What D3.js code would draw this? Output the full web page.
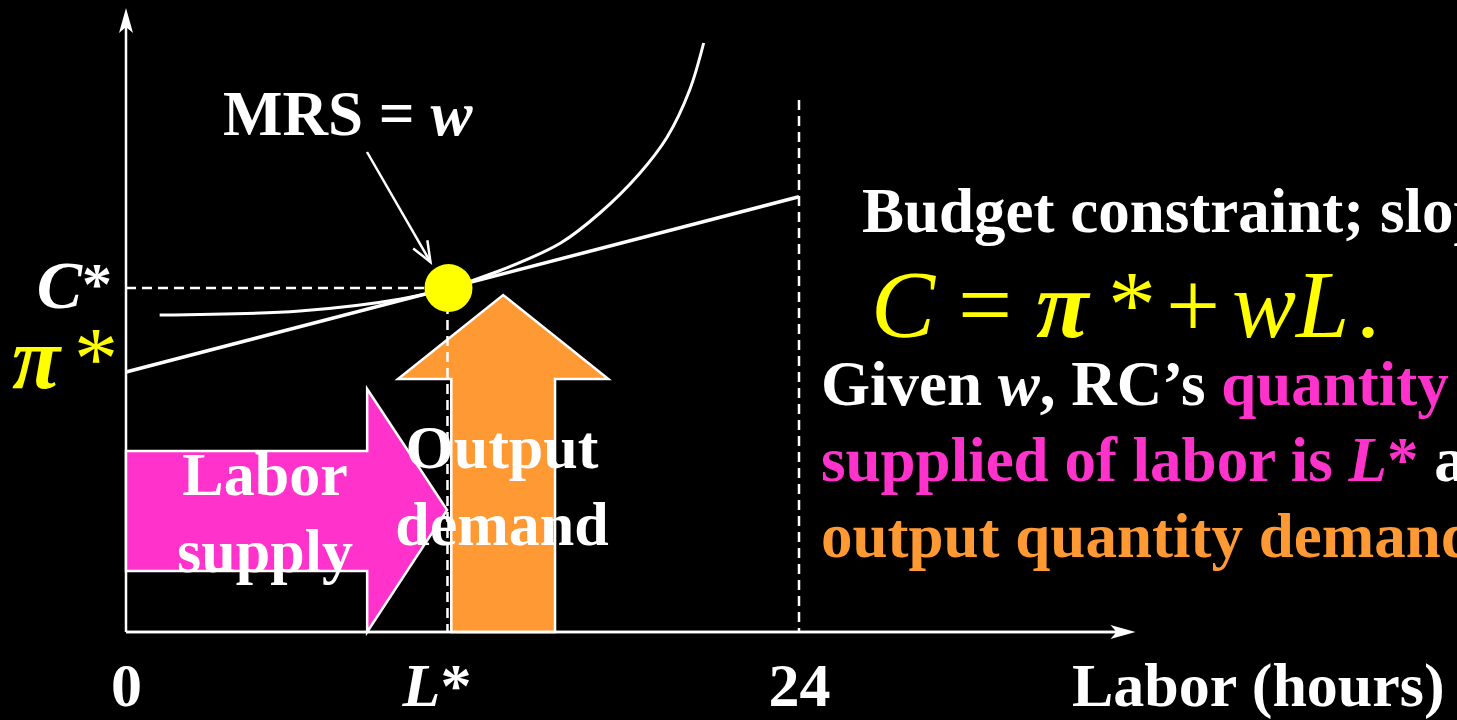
<!DOCTYPE html>
<html>
<head>
<meta charset="utf-8">
<script src="https://cdn.jsdelivr.net/npm/d3@7"></script>
<style>
  html, body { margin: 0; padding: 0; background: #000; overflow: hidden; }
  svg { display: block; }
</style>
</head>
<body>
<div id="chart"></div>
<script>
// ---- values (hours on x, consumption units on y) ----
const endowment = 24;          // hours available
const axisMaxL = 36;           // x axis arrow end
const axisMaxC = 62.4;         // y axis arrow end
const piStar = 26;             // profit income (intercept)
const wage = 0.73;             // slope of budget constraint
const Lstar = 11.5;            // chosen labor
const Cstar = piStar + wage * Lstar;
const timeLineTop = 53.2;      // top of the dashed 24-hour line

// indifference curve
const curveL = [1.2, 6.2, 9.8, 11.5, 13.3, 15.5, 16.9, 18.3, 19.3, 20.1, 20.6];
const curveC = [31.7, 32.1, 33.3, 34.4, 36.1, 38.9, 41.9, 45.8, 49.5, 54.2, 58.9];

// tick labels on the x axis
const tickValues = [0, Lstar, endowment];
const tickLabels = ["0", "L*", "24"];

// block arrows: labor supply (pointing right), output demand (pointing up)
const laborShaft = [0, 8.6];         // L from / to
const laborShaftC = [6.1, 18.1];     // C bottom / top
const laborHeadC = [0, 24.3];        // head bottom / top
const laborTip = [Lstar - 0.05, 12.2];
const outputShaft = [11.6, 15.3];    // L left / right
const outputShaftTop = 25.3;
const outputHead = [9.7, 17.2];
const outputTip = [13.45, 33.7];

const W = 1457, H = 720;
const svg = d3.select("#chart").append("svg")
    .attr("width", W)
    .attr("height", H)
    .style("background", "#000");

const x = d3.scaleLinear().domain([0, endowment]).range([126, 799]);
const y = d3.scaleLinear().domain([0, axisMaxC]).range([632, 8]);

const serif = "'Liberation Serif', 'Times New Roman', Times, serif";
const pink = "#FF33CC", orange = "#FF9933", yellow = "#FFFF00";

// axes lines with arrow heads
svg.append("line")
    .attr("x1", x(0)).attr("y1", y(0))
    .attr("x2", x(0)).attr("y2", y(axisMaxC) + 8)
    .attr("stroke", "#fff").attr("stroke-width", 2.5);
svg.append("path")
    .attr("d", `M${x(0)},${y(axisMaxC)} L${x(0) - 7},${y(axisMaxC) + 25} L${x(0)},${y(axisMaxC) + 19} L${x(0) + 7},${y(axisMaxC) + 25} Z`)
    .attr("fill", "#fff");

svg.append("line")
    .attr("x1", x(0)).attr("y1", y(0))
    .attr("x2", x(axisMaxL) - 8).attr("y2", y(0))
    .attr("stroke", "#fff").attr("stroke-width", 2.5);
svg.append("path")
    .attr("d", `M${x(axisMaxL)},${y(0)} L${x(axisMaxL) - 25},${y(0) - 7} L${x(axisMaxL) - 19},${y(0)} L${x(axisMaxL) - 25},${y(0) + 7} Z`)
    .attr("fill", "#fff");

// x tick labels via d3 axis
const xAxis = d3.axisBottom(x)
    .tickValues(tickValues)
    .tickSize(0)
    .tickPadding(0)
    .tickFormat((d, i) => tickLabels[i]);

svg.append("g")
    .attr("transform", `translate(0, ${y(0)})`)
    .call(xAxis)
    .call(g => g.select(".domain").remove())
    .call(g => g.selectAll(".tick text")
        .attr("y", 74)
        .attr("dy", 0)
        .attr("fill", "#fff")
        .attr("font-family", serif)
        .attr("font-weight", "bold")
        .attr("font-size", 62)
        .each(function(d, i) {
          if (tickLabels[i] === "L*") {
            const t = d3.select(this).text("").attr("dx", -12);
            t.append("tspan").attr("font-style", "italic").text("L");
            t.append("tspan").text("*");
          }
        }));

svg.append("text")
    .attr("x", 1072).attr("y", 706)
    .attr("fill", "#fff")
    .attr("font-family", serif).attr("font-weight", "bold").attr("font-size", 62)
    .text("Labor (hours)");

// dashed guide lines
const dash = "10,6";
svg.append("line")
    .attr("x1", x(endowment)).attr("x2", x(endowment))
    .attr("y1", y(timeLineTop)).attr("y2", y(0))
    .attr("stroke", "#fff").attr("stroke-width", 2.5).attr("stroke-dasharray", dash);
svg.append("line")
    .attr("x1", x(0)).attr("x2", x(Lstar))
    .attr("y1", y(Cstar)).attr("y2", y(Cstar))
    .attr("stroke", "#fff").attr("stroke-width", 2.5).attr("stroke-dasharray", dash);

// budget constraint
svg.append("line")
    .attr("x1", x(0)).attr("y1", y(piStar))
    .attr("x2", x(endowment)).attr("y2", y(piStar + wage * endowment))
    .attr("stroke", "#fff").attr("stroke-width", 3.5);

// indifference curve
const curveData = curveL.map((l, i) => [l, curveC[i]]);
svg.append("path")
    .datum(curveData)
    .attr("d", d3.line().x(d => x(d[0])).y(d => y(d[1])).curve(d3.curveCatmullRom.alpha(0.5)))
    .attr("fill", "none")
    .attr("stroke", "#fff")
    .attr("stroke-width", 3);

// labor supply block arrow
const laborPts = [
  [laborShaft[0], laborShaftC[1]], [laborShaft[1], laborShaftC[1]], [laborShaft[1], laborHeadC[1]],
  laborTip,
  [laborShaft[1], laborHeadC[0]], [laborShaft[1], laborShaftC[0]], [laborShaft[0], laborShaftC[0]]
];
svg.append("path")
    .attr("d", "M" + laborPts.map(p => `${x(p[0])},${y(p[1])}`).join("L") + "Z")
    .attr("fill", pink).attr("stroke", "#fff").attr("stroke-width", 2.5)
    .attr("stroke-linejoin", "miter");

// output demand block arrow
const outPts = [
  [outputShaft[0], 0], [outputShaft[0], outputShaftTop], [outputHead[0], outputShaftTop],
  outputTip,
  [outputHead[1], outputShaftTop], [outputShaft[1], outputShaftTop], [outputShaft[1], 0]
];
svg.append("path")
    .attr("d", "M" + outPts.map(p => `${x(p[0])},${y(p[1])}`).join("L") + "Z")
    .attr("fill", orange).attr("stroke", "#fff").attr("stroke-width", 2.5);

// redraw axis segment over the arrow bottoms
svg.append("line")
    .attr("x1", x(0)).attr("y1", y(0))
    .attr("x2", x(axisMaxL) - 8).attr("y2", y(0))
    .attr("stroke", "#fff").attr("stroke-width", 2.5);

// dashed line down from the optimum
svg.append("line")
    .attr("x1", x(Lstar) - 1).attr("x2", x(Lstar) - 1)
    .attr("y1", y(Cstar)).attr("y2", y(0))
    .attr("stroke", "#fff").attr("stroke-width", 2.5).attr("stroke-dasharray", dash);

// optimum point
svg.append("circle")
    .attr("cx", x(Lstar)).attr("cy", y(Cstar))
    .attr("r", 24)
    .attr("fill", yellow);

// MRS = w label and pointer
const mrs = svg.append("text")
    .attr("x", 223).attr("y", 135)
    .attr("fill", "#fff")
    .attr("font-family", serif).attr("font-weight", "bold").attr("font-size", 63);
mrs.append("tspan").text("MRS = ");
mrs.append("tspan").attr("font-style", "italic").text("w");

const tipX = x(Lstar) - 18, tipY = y(Cstar) - 26;
const sx = 367, sy = 152;
svg.append("line")
    .attr("x1", sx).attr("y1", sy).attr("x2", tipX).attr("y2", tipY)
    .attr("stroke", "#fff").attr("stroke-width", 2.5);
{
  const ang = Math.atan2(tipY - sy, tipX - sx);
  const hl = 22, ha = 0.38;
  const p1 = [tipX - hl * Math.cos(ang - ha), tipY - hl * Math.sin(ang - ha)];
  const p2 = [tipX - hl * Math.cos(ang + ha), tipY - hl * Math.sin(ang + ha)];
  svg.append("path")
      .attr("d", `M${p1[0]},${p1[1]} L${tipX},${tipY} L${p2[0]},${p2[1]}`)
      .attr("fill", "none").attr("stroke", "#fff").attr("stroke-width", 2.5);
}

// axis value labels C* and pi*
const cLab = svg.append("text")
    .attr("x", 112).attr("y", y(Cstar) + 20)
    .attr("text-anchor", "end")
    .attr("fill", "#fff")
    .attr("font-family", serif).attr("font-weight", "bold").attr("font-size", 68);
cLab.append("tspan").attr("font-style", "italic").text("C");
cLab.append("tspan").attr("font-size", 60).attr("dy", -4).text("*");

const piLab = svg.append("text")
    .attr("x", 118).attr("y", y(piStar) + 16)
    .attr("text-anchor", "end")
    .attr("fill", yellow)
    .attr("font-family", serif).attr("font-size", 88);
piLab.append("tspan").attr("font-style", "italic").attr("font-weight", "bold").text("π");
piLab.append("tspan").attr("dx", 14).text("*");

// text inside block arrows
const boxText = (lines, cx, ys) => {
  lines.forEach((s, i) => svg.append("text")
      .attr("x", cx).attr("y", ys[i])
      .attr("text-anchor", "middle")
      .attr("fill", "#fff")
      .attr("font-family", serif).attr("font-weight", "bold").attr("font-size", 62)
      .text(s));
};
boxText(["Labor", "supply"], 265, [495, 572]);
boxText(["Output", "demand"], 502, [468, 545]);

// right-hand explanation
svg.append("text")
    .attr("x", 862).attr("y", 232)
    .attr("fill", "#fff")
    .attr("font-family", serif).attr("font-weight", "bold").attr("font-size", 63)
    .text("Budget constraint; slope = w");

const eqParts = [
  {t: "C", x: 871, it: true, b: false},
  {t: "=", x: 958, it: false, b: false},
  {t: "π", x: 1036, it: true, b: true},
  {t: "*", x: 1108, it: false, b: false},
  {t: "+", x: 1166, it: false, b: false},
  {t: "w", x: 1232, it: true, b: false},
  {t: "L", x: 1296, it: true, b: false},
  {t: ".", x: 1356, it: false, b: false}
];
const eq = svg.append("text")
    .attr("y", 337)
    .attr("fill", yellow)
    .attr("font-family", serif).attr("font-size", 96);
eqParts.forEach(p => eq.append("tspan")
    .attr("x", p.x)
    .attr("font-style", p.it ? "italic" : "normal")
    .attr("font-weight", p.b ? "bold" : "normal")
    .text(p.t));

const para = [
  [["Given ", "#fff", false], ["w", "#fff", true], [", RC’s ", "#fff", false], ["quantity", pink, false]],
  [["supplied of labor is ", pink, false], ["L", pink, true], ["*", pink, false], [" and", "#fff", false]],
  [["output quantity demanded is ", orange, false], ["C", orange, true], ["*", orange, false]]
];
const paraY = [405, 481, 557];
para.forEach((line, i) => {
  const t = svg.append("text")
      .attr("x", 821).attr("y", paraY[i])
      .attr("font-family", serif).attr("font-weight", "bold").attr("font-size", 63)
      .attr("xml:space", "preserve")
      .style("white-space", "pre");
  line.forEach(([s, c, it]) => t.append("tspan")
      .attr("fill", c)
      .attr("font-style", it ? "italic" : "normal")
      .text(s));
});
</script>
</body>
</html>
